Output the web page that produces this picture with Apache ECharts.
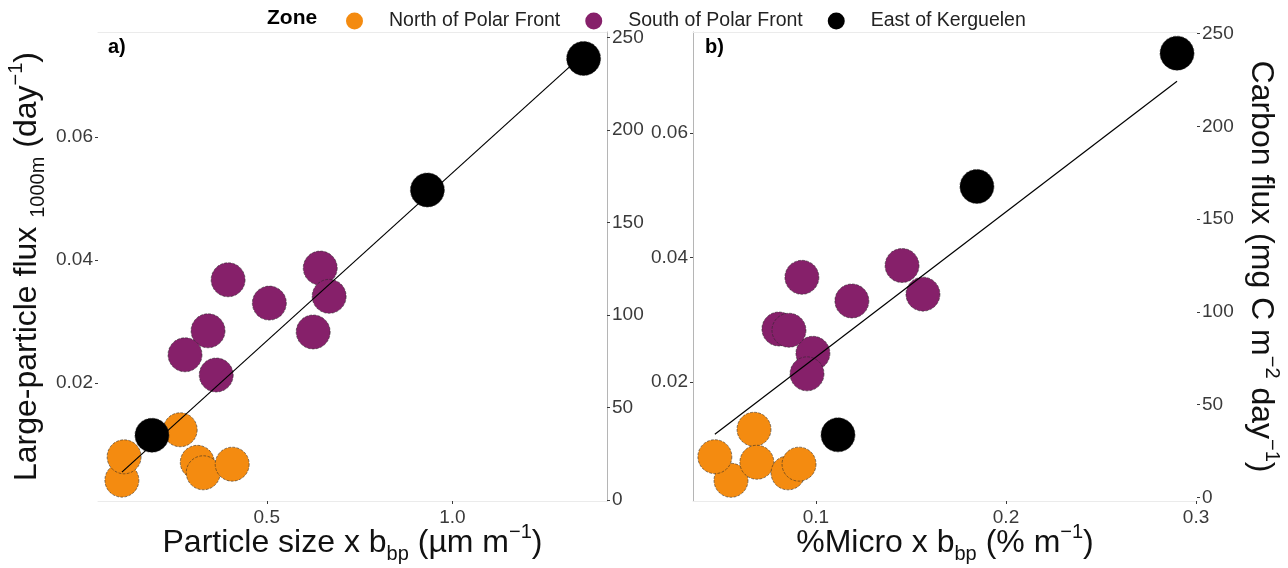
<!DOCTYPE html>
<html>
<head>
<meta charset="utf-8">
<script src="https://cdn.jsdelivr.net/npm/echarts@6/dist/echarts.min.js"></script>
<style>
html,body{margin:0;padding:0;background:#fff;}
#chart{width:1288px;height:568px;}
</style>
</head>
<body>
<div id="chart"></div>
<script>
// ---- data ----
const zones = ['North of Polar Front', 'South of Polar Front', 'East of Kerguelen'];

// Large-particle flux (day^-1), shared by both panels
const fluxNorth = [0.0042, 0.0080, 0.0124, 0.0071, 0.0054, 0.0068];
const fluxSouth = [0.0368, 0.0285, 0.0246, 0.0213, 0.0330, 0.0387, 0.0341, 0.0283];
const fluxEast  = [0.0115, 0.0514, 0.0728];

// Panel a: particle size x bbp
const sizeNorth = [0.110, 0.116, 0.267, 0.313, 0.329, 0.407];
const sizeSouth = [0.396, 0.342, 0.280, 0.364, 0.507, 0.644, 0.668, 0.625];
const sizeEast  = [0.191, 0.9325, 1.353];

// Panel b: %Micro x bbp
const microNorth = [0.0553, 0.0468, 0.0674, 0.0689, 0.0853, 0.0911];
const microSouth = [0.0926, 0.0805, 0.0984, 0.0953, 0.1189, 0.1453, 0.1563, 0.0858];
const microEast  = [0.1116, 0.1847, 0.290];

// linear fits (endpoints over data range)
const fitA = [[0.110, 0.0055], [1.353, 0.0735]];
const fitB = [[0.0468, 0.0116], [0.290, 0.0683]];

// tick labels
const xTicksA = [0.5, 1.0];
const xTicksB = [0.1, 0.2, 0.3];
const yTicksFlux = [0.02, 0.04, 0.06];
const yTicksCarbon = [0, 50, 100, 150, 200, 250];

// ---- styling ----
const FONT = 'Liberation Sans, Arial, Helvetica, sans-serif';
const zoneColors = ['#F48B10', '#86206A', '#000000'];
const tickColor = '#3a3a3a';
const titleColor = '#111111';

function pts(xs, ys) { return xs.map((x, i) => [x, ys[i]]); }

const richTitle = {
  sub: { fontSize: 20, fontFamily: FONT, color: titleColor, verticalAlign: 'bottom', lineHeight: 30 },
  sup: { fontSize: 20, fontFamily: FONT, color: titleColor, verticalAlign: 'top', lineHeight: 27 }
};
const nameStyle = { fontSize: 32, fontFamily: FONT, color: titleColor, lineHeight: 42, rich: richTitle };
const labelStyle = { fontSize: 19, fontFamily: FONT, color: tickColor };

function xAxisMain(grid, min, max, ticks, decimals, name) {
  return {
    gridIndex: grid, type: 'value', position: 'bottom', min: min, max: max,
    axisLine: { show: true, onZero: false, lineStyle: { color: '#ebebeb', width: 1 } },
    axisTick: { show: true, length: 3, customValues: ticks, lineStyle: { color: tickColor } },
    axisLabel: Object.assign({ margin: 7, customValues: ticks, formatter: v => v.toFixed(decimals) }, labelStyle),
    splitLine: { show: false },
    name: name, nameLocation: 'middle', nameGap: 21, nameMoveOverlap: false, nameTextStyle: nameStyle
  };
}
function xAxisTop(grid, min, max) {
  return {
    gridIndex: grid, type: 'value', position: 'top', min: min, max: max,
    axisLine: { show: true, onZero: false, lineStyle: { color: '#ebebeb', width: 1 } },
    axisTick: { show: false }, axisLabel: { show: false }, splitLine: { show: false }
  };
}
function yAxisDef(grid, pos, min, max, ticks, decimals, showLine, name, rot, gap) {
  const a = {
    gridIndex: grid, type: 'value', position: pos, min: min, max: max,
    axisLine: { show: showLine, onZero: false, lineStyle: { color: '#b5b5b5', width: 1 } },
    axisTick: { show: true, length: 3, customValues: ticks, lineStyle: { color: tickColor } },
    axisLabel: Object.assign({ margin: 5, customValues: ticks, formatter: v => decimals > 0 ? v.toFixed(decimals) : String(v) }, labelStyle),
    splitLine: { show: false }
  };
  if (name) {
    a.name = name; a.nameLocation = 'middle'; a.nameRotate = rot; a.nameGap = gap; a.nameMoveOverlap = false; a.nameTextStyle = nameStyle;
  }
  return a;
}

const scatterBase = (name, xi, yi, data, colorIdx) => ({
  name: name, type: 'scatter', xAxisIndex: xi, yAxisIndex: yi, data: data,
  symbol: 'circle', symbolSize: 34,
  itemStyle: { color: zoneColors[colorIdx], borderColor: 'rgba(40,40,40,0.8)', borderWidth: 0.7, borderType: 'dashed', opacity: 1 },
  emphasis: { disabled: true }, z: 2
});
const fitLine = (xi, yi, data) => ({
  name: 'fit', type: 'line', xAxisIndex: xi, yAxisIndex: yi, data: data,
  symbol: 'none', lineStyle: { color: '#000', width: 1.2 }, z: 5, silent: true, emphasis: { disabled: true }
});

const option = {
  animation: false,
  backgroundColor: '#ffffff',
  title: [
    { text: 'Zone', left: 262, top: 3, textStyle: { fontSize: 21, fontWeight: 'bold', fontFamily: FONT, color: '#000' } },
    { text: 'a)', left: 103, top: 32, textStyle: { fontSize: 20, fontWeight: 'bold', fontFamily: FONT, color: '#000' } },
    { text: 'b)', left: 700, top: 32, textStyle: { fontSize: 20, fontWeight: 'bold', fontFamily: FONT, color: '#000' } }
  ],
  legend: {
    data: zones, top: 6, left: 341, icon: 'circle', itemWidth: 17, itemHeight: 17, itemGap: 25,
    itemStyle: { borderWidth: 0 },
    textStyle: { fontSize: 19.5, fontFamily: FONT, color: '#222', padding: [0, 0, 0, 21] }
  },
  grid: [
    { left: 98, right: 681, top: 32, bottom: 67, outerBoundsMode: 'none', containLabel: false },
    { left: 693, right: 91, top: 32, bottom: 67, outerBoundsMode: 'none', containLabel: false }
  ],
  xAxis: [
    xAxisMain(0, 0.0457, 1.416, xTicksA, 1, 'Particle size x b{sub|bp} (µm m{sup|−1})'),
    xAxisTop(0, 0.0457, 1.416),
    xAxisMain(1, 0.0353, 0.3005, xTicksB, 1, '%Micro x b{sub|bp} (% m{sup|−1})'),
    xAxisTop(1, 0.0353, 0.3005)
  ],
  yAxis: [
    yAxisDef(0, 'left', 0.00081, 0.0771, yTicksFlux, 2, false, 'Large-particle flux {sub|1000m} (day{sup|−1})', 90, 50),
    yAxisDef(0, 'right', -0.5, 252.9, yTicksCarbon, 0, true),
    yAxisDef(1, 'left', 0.00088, 0.0762, yTicksFlux, 2, true),
    yAxisDef(1, 'right', -1.9, 250.8, yTicksCarbon, 0, false, 'Carbon flux (mg C m{sup|−2} day{sup|−1})', -90, 43)
  ],
  series: [
    scatterBase(zones[0], 0, 0, pts(sizeNorth, fluxNorth), 0),
    scatterBase(zones[1], 0, 0, pts(sizeSouth, fluxSouth), 1),
    scatterBase(zones[2], 0, 0, pts(sizeEast, fluxEast), 2),
    fitLine(0, 0, fitA),
    scatterBase(zones[0], 2, 2, pts(microNorth, fluxNorth), 0),
    scatterBase(zones[1], 2, 2, pts(microSouth, fluxSouth), 1),
    scatterBase(zones[2], 2, 2, pts(microEast, fluxEast), 2),
    fitLine(2, 2, fitB)
  ]
};

const chart = echarts.init(document.getElementById('chart'), null, { renderer: 'canvas' });
chart.setOption(option);
</script>
</body>
</html>
